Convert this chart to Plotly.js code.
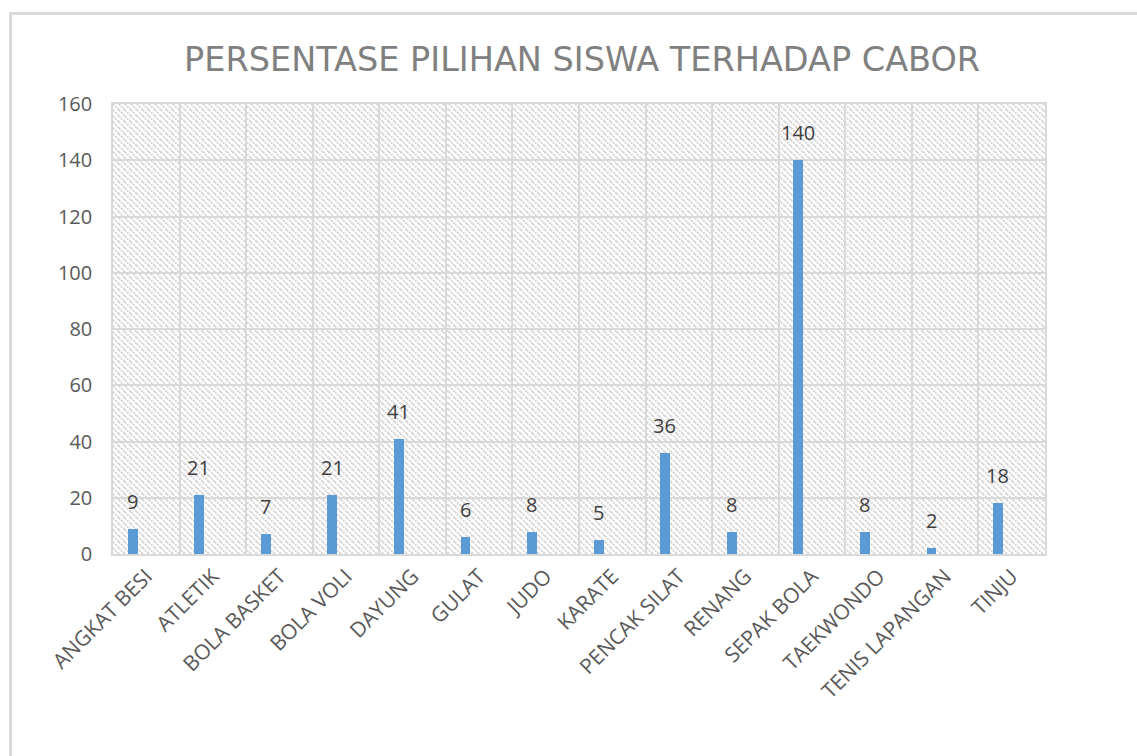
<!DOCTYPE html>
<html>
<head>
<meta charset="utf-8">
<script src="https://cdn.plot.ly/plotly-3.0.1.min.js"></script>
<style>
html,body{margin:0;padding:0;background:#fff;}
#wrap{position:relative;width:1137px;height:756px;}
#chart{position:absolute;left:0;top:0;width:1137px;height:756px;}
#frame{position:absolute;left:9px;top:12px;width:1128px;height:744px;border-top:3px solid #d9d9d9;border-left:3px solid #d9d9d9;box-sizing:border-box;pointer-events:none;}
</style>
</head>
<body>
<div id="wrap"><div id="chart"></div><div id="frame"></div></div>
<script>
const categories = ["ANGKAT BESI","ATLETIK","BOLA BASKET","BOLA VOLI","DAYUNG","GULAT","JUDO","KARATE","PENCAK SILAT","RENANG","SEPAK BOLA","TAEKWONDO","TENIS LAPANGAN","TINJU"];
const values = [9,21,7,21,41,6,8,5,36,8,140,8,2,18];
const yTicks = [0,20,40,60,80,100,120,140,160];
const chartTitle = "PERSENTASE PILIHAN SISWA TERHADAP CABOR";

const FONT = "Open Sans, Liberation Sans, sans-serif";
const plotW = 932, plotH = 450;
const hatch = 'data:image/svg+xml;utf8,' + encodeURIComponent(
  '<svg xmlns="http://www.w3.org/2000/svg" width="'+plotW+'" height="'+plotH+'">' +
  '<defs><pattern id="p" width="6" height="6" patternUnits="userSpaceOnUse">' +
  '<rect width="6" height="6" fill="#ffffff"/>' +
  '<path d="M-1,5 L1,7 M0,0 L6,6 M5,-1 L7,1" stroke="#d4d4d4" stroke-width="1.9" stroke-dasharray="2,1"/>' +
  '</pattern></defs><rect width="100%" height="100%" fill="url(#p)"/></svg>');

const trace = {
  type: "bar",
  x: categories,
  y: values,
  width: 0.15,
  offset: -0.28,
  marker: {color: "#5B9BD5"},
  hoverinfo: "x+y"
};

const annotations = categories.map((c, i) => ({
  x: c, y: values[i], text: String(values[i]),
  xref: "x", yref: "y", showarrow: false,
  yanchor: "bottom", xanchor: "center",
  xshift: -14, yshift: 12,
  font: {family: FONT, size: 20, color: "#404040"}
}));

const layout = {
  width: 1137, height: 756,
  margin: {l: 113, r: 92, t: 104, b: 202, pad: 0},
  paper_bgcolor: "#ffffff",
  plot_bgcolor: "rgba(0,0,0,0)",
  showlegend: false,
  bargap: 0,
  title: {text: chartTitle, font: {family: "DejaVu Sans, Open Sans, sans-serif", size: 33.5, color: "#808080"}, xref: "container", x: 0.512, xanchor: "center", yref: "container", y: 0.922, yanchor: "middle"},
  xaxis: {
    type: "category",
    tickson: "boundaries",
    showgrid: true, gridcolor: "#d9d9d9", gridwidth: 1.5,
    showline: true, linecolor: "#d9d9d9", linewidth: 1.5, mirror: true,
    ticks: "", tickangle: -45,
    tickfont: {family: FONT, size: 21, color: "#595959"},
    zeroline: false
  },
  yaxis: {
    range: [0, 160], tickvals: yTicks, ticktext: yTicks.map(String),
    showgrid: true, gridcolor: "#d9d9d9", gridwidth: 1.5,
    showline: true, linecolor: "#d9d9d9", linewidth: 1.5, mirror: true,
    ticks: "", ticklabelstandoff: 15,
    tickfont: {family: FONT, size: 20, color: "#595959"},
    zeroline: false
  },
  images: [{source: hatch, xref: "paper", yref: "paper", x: 0, y: 1, sizex: 1, sizey: 1, sizing: "stretch", xanchor: "left", yanchor: "top", layer: "below"}],
  annotations: annotations
};

Plotly.newPlot("chart", [trace], layout, {displayModeBar: false});
</script>
</body>
</html>
